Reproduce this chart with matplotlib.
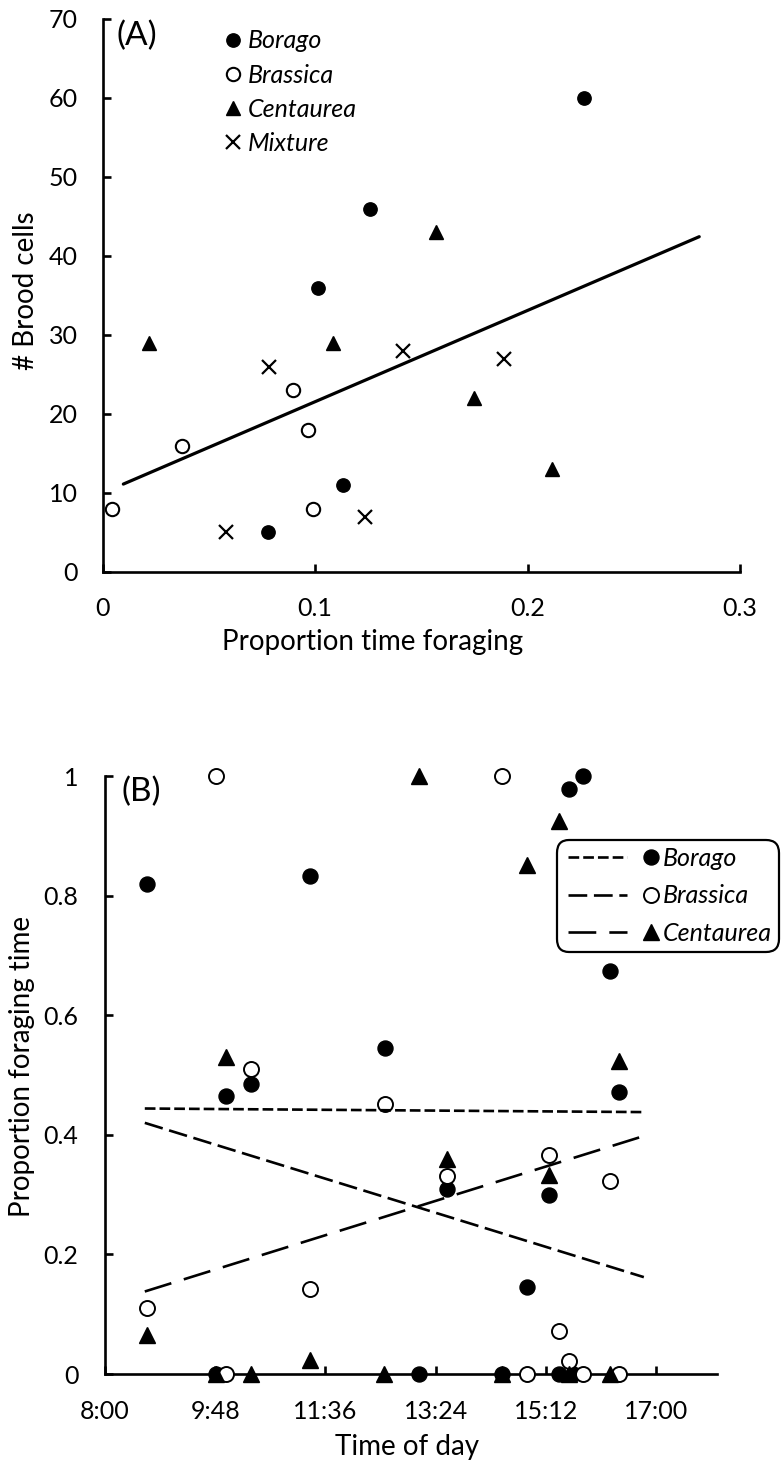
import matplotlib
matplotlib.use("Agg")
import matplotlib.pyplot as plt
from matplotlib.lines import Line2D
from matplotlib.legend_handler import HandlerBase
from matplotlib.ticker import FuncFormatter
import numpy as np

plt.rcParams['font.family'] = ['Lato', 'DejaVu Sans']
plt.rcParams['lines.scale_dashes'] = False

# ---- panel A: brood cells vs proportion of time foraging ----
borago_a_x = [0.078, 0.113, 0.1015, 0.126, 0.2266]
borago_a_y = [5, 11, 36, 46, 60]
brassica_a_x = [0.0042, 0.0372, 0.0894, 0.0968, 0.0991]
brassica_a_y = [8, 16, 23, 18, 8]
centaurea_a_x = [0.0219, 0.1085, 0.157, 0.1749, 0.2116]
centaurea_a_y = [29, 29, 43, 22, 13]
mixture_a_x = [0.0579, 0.0784, 0.1234, 0.1415, 0.189]
mixture_a_y = [5, 26, 7, 28, 27]

# linear trend
fit_slope = 115.5
fit_intercept = 10.0
fit_range = [0.0097, 0.2808]

# ---- panel B: proportion foraging time vs time of day ----
borago_b_t = ["8:41", "9:49", "9:59", "10:23", "11:21", "12:34", "13:08", "13:35",
              "14:29", "14:54", "15:15", "15:25", "15:35", "15:48", "15:39",
              "16:15", "16:24"]
borago_b_y = [0.82, 0, 0.465, 0.485, 0.832, 0.546, 0, 0.31,
              0, 0.145, 0.30, 0, 0.978, 1.0, 0,
              0.674, 0.472]
brassica_b_t = ["8:41", "9:49", "9:59", "10:23", "11:21", "12:34", "13:35",
                "14:29", "14:54", "15:15", "15:25", "15:35", "15:48",
                "16:15", "16:24"]
brassica_b_y = [0.11, 1.0, 0, 0.51, 0.142, 0.452, 0.331,
                1.0, 0, 0.366, 0.072, 0.022, 0,
                0.322, 0]
centaurea_b_t = ["8:41", "9:49", "9:59", "10:23", "11:21", "12:33", "13:08",
                 "13:35", "14:29", "14:54", "15:15", "15:25", "15:35",
                 "16:15", "16:24"]
centaurea_b_y = [0.065, 0, 0.53, 0, 0.023, 0, 1.0,
                 0.36, 0, 0.852, 0.332, 0.925, 0,
                 0, 0.524]

trend_span = ["8:39", "16:48"]
borago_trend = [0.444, 0.438]
brassica_trend = [0.420, 0.162]
centaurea_trend = [0.138, 0.398]

time_ticks = ["8:00", "9:48", "11:36", "13:24", "15:12", "17:00"]


def to_hours(stamps):
    out = []
    for s in stamps:
        h, m = s.split(":")
        out.append(int(h) + int(m) / 60.0)
    return np.array(out)


def hhmm(v, pos=None):
    total = int(round(v * 60))
    return "%d:%02d" % (total // 60, total % 60)


class LineThenMarker(HandlerBase):
    # legend entry drawn as a line sample followed by the marker (Excel style)
    def create_artists(self, legend, orig_handle, xdescent, ydescent,
                       width, height, fontsize, trans):
        line, mark = orig_handle
        y = height / 2.0 - ydescent
        x0 = -xdescent
        seg = Line2D([x0 + 0.046 * width, x0 + 0.67 * width], [y, y])
        seg.update_from(line)
        seg.set_marker('None')
        dot = Line2D([x0 + 0.926 * width], [y])
        dot.update_from(mark)
        dot.set_linestyle('None')
        seg.set_transform(trans)
        dot.set_transform(trans)
        return [seg, dot]


def style_axes(ax):
    for side in ['top', 'right']:
        ax.spines[side].set_visible(False)
    for side in ['left', 'bottom']:
        ax.spines[side].set_linewidth(1.9)
    ax.tick_params(direction='in', length=6, width=1.9, labelsize=18)


fig = plt.figure(figsize=(7.83, 14.65), dpi=100)

# ---------------- panel A ----------------
axA = fig.add_axes([0.1312, 0.6096, 0.8139, 0.3775])
style_axes(axA)
axA.tick_params(axis='x', pad=18)
axA.tick_params(axis='y', pad=18)

hA1, = axA.plot(borago_a_x, borago_a_y, ls='none', marker='o', ms=9.6,
                mfc='black', mec='black', clip_on=False, zorder=3)
hA2, = axA.plot(brassica_a_x, brassica_a_y, ls='none', marker='o', ms=9.6,
                mfc='white', mec='black', mew=1.5, clip_on=False, zorder=3)
hA3, = axA.plot(centaurea_a_x, centaurea_a_y, ls='none', marker='^', ms=10.5,
                mfc='black', mec='black', clip_on=False, zorder=3)
hA4, = axA.plot(mixture_a_x, mixture_a_y, ls='none', marker='x', ms=9.5,
                mec='black', mew=1.6, clip_on=False, zorder=3)
fx = np.array(fit_range)
axA.plot(fx, fit_intercept + fit_slope * fx, color='black', lw=2.3,
         solid_capstyle='round', zorder=4)

axA.set_xlim(0, 0.3)
axA.set_ylim(0, 70)
axA.set_xticks([0, 0.1, 0.2, 0.3])
axA.set_yticks(range(0, 71, 10))
axA.xaxis.set_major_formatter(FuncFormatter(lambda v, p: "%g" % round(v, 2)))

axA.set_xlabel("Proportion time foraging", fontsize=20)
axA.xaxis.set_label_coords(0.424, -0.103)
axA.set_ylabel("# Brood cells", fontsize=20)
axA.yaxis.set_label_coords(-0.100, 0.508)
axA.text(0.053, 0.969, "(A)", transform=axA.transAxes, fontsize=24,
         ha='center', va='center')

axA.legend([hA1, hA2, hA3, hA4], ["Borago", "Brassica", "Centaurea", "Mixture"],
           loc='upper left', bbox_to_anchor=(0.192, 0.981), frameon=False,
           prop={'style': 'italic', 'size': 18}, numpoints=1,
           handlelength=0.6, handletextpad=0.3, labelspacing=0.45,
           borderpad=0, borderaxespad=0)

# ---------------- panel B ----------------
axB = fig.add_axes([0.1341, 0.0621, 0.782, 0.4082])
style_axes(axB)
axB.tick_params(axis='x', pad=19)
axB.tick_params(axis='y', pad=19)

hB1, = axB.plot(to_hours(borago_b_t), borago_b_y, ls='none', marker='o', ms=10.8,
                mfc='black', mec='black', clip_on=False, zorder=3)
hB2, = axB.plot(to_hours(brassica_b_t), brassica_b_y, ls='none', marker='o', ms=10.8,
                mfc='white', mec='black', mew=1.4, clip_on=False, zorder=3)
hB3, = axB.plot(to_hours(centaurea_b_t), centaurea_b_y, ls='none', marker='^', ms=11,
                mfc='black', mec='black', clip_on=False, zorder=3)

span = to_hours(trend_span)
lB1, = axB.plot(span, borago_trend, color='black', lw=1.9, dashes=(7.7, 2.9), zorder=4)
lB2, = axB.plot(span, brassica_trend, color='black', lw=1.9, dashes=(13.5, 4.8), zorder=4)
lB3, = axB.plot(span, centaurea_trend, color='black', lw=1.9, dashes=(20, 9.4), zorder=4)

axB.set_xlim(8, 18)
axB.set_ylim(0, 1)
axB.set_xticks(to_hours(time_ticks))
axB.xaxis.set_major_formatter(FuncFormatter(hhmm))
axB.set_yticks([0, 0.2, 0.4, 0.6, 0.8, 1.0])
axB.yaxis.set_major_formatter(FuncFormatter(lambda v, p: "%g" % round(v, 2)))

axB.set_xlabel("Time of day", fontsize=20)
axB.xaxis.set_label_coords(0.494, -0.100)
axB.set_ylabel("Proportion foraging time", fontsize=20)
axB.yaxis.set_label_coords(-0.114, 0.515)
axB.text(0.06, 0.973, "(B)", transform=axB.transAxes, fontsize=24,
         ha='center', va='center')

legB = axB.legend([(lB1, hB1), (lB2, hB2), (lB3, hB3)],
                  ["Borago", "Brassica", "Centaurea"],
                  handler_map={tuple: LineThenMarker()},
                  loc='upper left', bbox_to_anchor=(0.711, 0.4266),
                  bbox_transform=fig.transFigure,
                  prop={'style': 'italic', 'size': 18},
                  handlelength=3.76, handletextpad=0.21, labelspacing=0.57,
                  borderpad=0.28, borderaxespad=0, fancybox=True,
                  edgecolor='black', framealpha=1)
legB.get_frame().set_linewidth(1.6)
legB.get_frame().set_boxstyle('round', pad=0, rounding_size=0.5)

fig.savefig("out.png", dpi=100)
